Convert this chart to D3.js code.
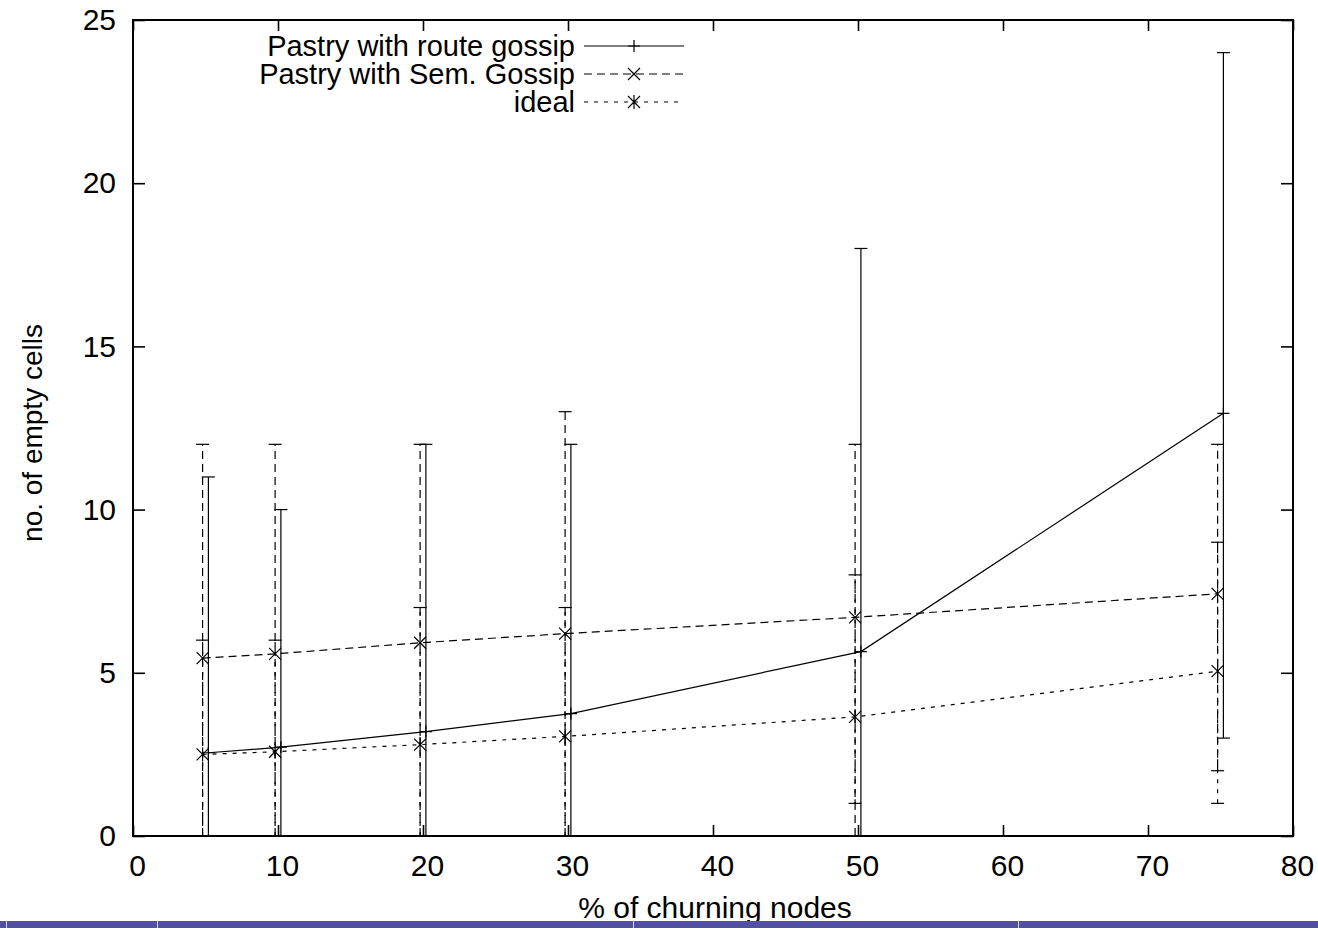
<!DOCTYPE html>
<html><head><meta charset="utf-8">
<script src="https://cdn.jsdelivr.net/npm/d3@7"></script>
<style>
body{margin:0;background:#fff;}
text{font-family:"Liberation Sans",Arial,Helvetica,sans-serif;fill:#000;}
</style></head><body>
<svg id="chart" width="1318" height="928"></svg>
<script>
// ---- data ----
const xTicks = [0, 10, 20, 30, 40, 50, 60, 70, 80];
const yTicks = [0, 5, 10, 15, 20, 25];
const routeX = [5.2, 10.2, 20.2, 30.2, 50.2, 75.2];
const otherX = [4.8, 9.8, 19.8, 29.8, 49.8, 74.8];
const routeMean = [2.55, 2.72, 3.2, 3.75, 5.65, 12.95];
const routeLow  = [0, 0, 0, 0, 0, 3];
const routeHigh = [11, 10, 12, 12, 18, 24];
const semMean = [5.45, 5.58, 5.92, 6.2, 6.7, 7.42];
const semLow  = [0, 0, 0, 0, 0, 2];
const semHigh = [12, 12, 12, 13, 12, 12];
const idealMean = [2.5, 2.58, 2.8, 3.05, 3.65, 5.05];
const idealLow  = [0, 0, 0, 0, 1, 1];
const idealHigh = [6, 6, 7, 7, 8, 9];
const seriesNames = ["Pastry with route gossip", "Pastry with Sem. Gossip", "ideal"];
const xTitle = "% of churning nodes";
const yTitle = "no. of empty cells";

// ---- layout ----
const W = 1318, H = 928;
const L = 133, R = 1293, T = 20, B = 836;
const FS = 30;
const svg = d3.select("#chart");
svg.append("rect").attr("width", W).attr("height", H).attr("fill", "#fff");

const x = d3.scaleLinear().domain([0, 80]).range([L, R]);
const y = d3.scaleLinear().domain([0, 25]).range([B, T]);

function styleAxis(g) {
  g.select(".domain").remove();
  g.selectAll(".tick line").attr("stroke", "#000").attr("stroke-width", 1.6);
  g.selectAll("text").attr("font-size", FS).attr("font-family", '"Liberation Sans",Arial,sans-serif').attr("fill", "#000");
}
svg.append("g").attr("transform", `translate(0,${B})`)
  .call(d3.axisBottom(x).tickValues(xTicks).tickSize(-11).tickSizeOuter(0).tickPadding(19)).call(styleAxis)
  .selectAll("text").attr("x", 4);
svg.append("g").attr("transform", `translate(0,${T})`)
  .call(d3.axisTop(x).tickValues(xTicks).tickSize(-11).tickSizeOuter(0).tickFormat("")).call(styleAxis);
svg.append("g").attr("transform", `translate(${L},0)`)
  .call(d3.axisLeft(y).tickValues(yTicks).tickSize(-12).tickSizeOuter(0).tickPadding(17)).call(styleAxis);
svg.append("g").attr("transform", `translate(${R},0)`)
  .call(d3.axisRight(y).tickValues(yTicks).tickSize(-12).tickSizeOuter(0).tickFormat("")).call(styleAxis);

// frame
svg.append("rect").attr("x", L).attr("y", T).attr("width", R - L).attr("height", B - T)
  .attr("fill", "none").attr("stroke", "#000").attr("stroke-width", 2);

// markers
const markers = {
  plus: "M-6,0H6M0,-6V6",
  cross: "M-6,-6L6,6M-6,6L6,-6",
  star: "M-6,-6L6,6M-6,6L6,-6M0,-7V7"
};
const dashes = ["", "8,5", "4,6"];

function drawSeries(xs, mean, lo, hi, dash, marker) {
  const g = svg.append("g").attr("fill", "none").attr("stroke", "#000").attr("stroke-width", 1.2);
  const pts = xs.map((v, i) => ({ x: v, m: mean[i], l: lo[i], h: hi[i] }));
  g.append("path").attr("d", d3.line().x(d => x(d.x)).y(d => y(d.m))(pts))
    .attr("stroke-dasharray", dash || null);
  pts.forEach(d => {
    const px = x(d.x);
    g.append("line").attr("x1", px).attr("x2", px).attr("y1", y(d.l)).attr("y2", y(d.h))
      .attr("stroke-dasharray", dash || null);
    [d.l, d.h].forEach(v => {
      g.append("line").attr("x1", px - 6.5).attr("x2", px + 6.5).attr("y1", y(v)).attr("y2", y(v));
    });
    g.append("path").attr("d", markers[marker]).attr("transform", `translate(${px},${y(d.m)})`);
  });
}
drawSeries(otherX, semMean, semLow, semHigh, dashes[1], "cross");
drawSeries(otherX, idealMean, idealLow, idealHigh, dashes[2], "star");
drawSeries(routeX, routeMean, routeLow, routeHigh, dashes[0], "plus");

// legend
const legY = [46, 74, 102];
const legMarkers = ["plus", "cross", "star"];
seriesNames.forEach((name, i) => {
  svg.append("text").attr("x", 575).attr("y", legY[i]).attr("dy", "0.35em")
    .attr("text-anchor", "end").attr("font-size", 29).text(name);
  svg.append("line").attr("x1", 584).attr("x2", 684).attr("y1", legY[i]).attr("y2", legY[i])
    .attr("stroke", "#000").attr("stroke-width", 1.2).attr("stroke-dasharray", dashes[i] || null);
  svg.append("path").attr("d", markers[legMarkers[i]]).attr("transform", `translate(634,${legY[i]})`)
    .attr("stroke", "#000").attr("stroke-width", 1.2).attr("fill", "none");
});

// axis titles
svg.append("text").attr("x", 715).attr("y", 918).attr("text-anchor", "middle")
  .attr("font-size", FS).text(xTitle);
svg.append("text").attr("transform", "translate(42,433) rotate(-90)").attr("text-anchor", "middle")
  .attr("font-size", 28).text(yTitle);

// bottom band
svg.append("rect").attr("x", 0).attr("y", 921).attr("width", W).attr("height", 7).attr("fill", "#5350a0");
[6, 157, 633, 1018].forEach(sx => {
  svg.append("line").attr("x1", sx + 0.5).attr("x2", sx + 0.5).attr("y1", 921).attr("y2", 928)
    .attr("stroke", "#d4d2ec").attr("stroke-width", 1);
});
</script>
</body></html>
